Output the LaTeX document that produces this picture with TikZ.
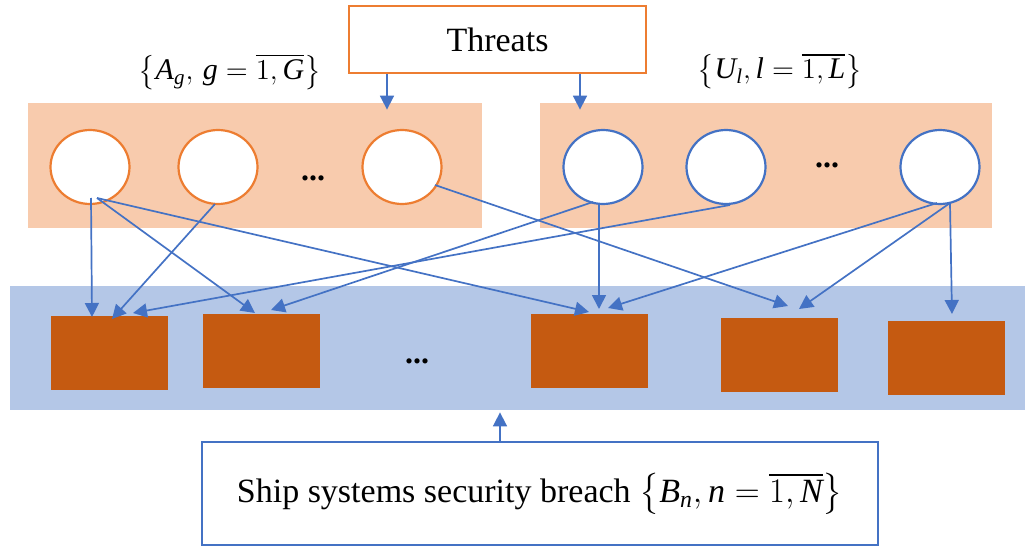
\documentclass[tikz,border=0pt]{standalone}
\usepackage{amsmath}
\usepackage{fontspec}
\setmainfont{Liberation Serif}
\usetikzlibrary{arrows.meta,shapes.geometric}
\definecolor{panelorange}{HTML}{F8CBAD}
\definecolor{lineorange}{HTML}{ED7D31}
\definecolor{bandblue}{HTML}{B4C7E7}
\definecolor{linkblue}{HTML}{4472C4}
\definecolor{blockrust}{HTML}{C55A11}
\newcommand\iv[1]{\text{\itshape #1}}
\begin{document}
\begin{tikzpicture}[x=0.5pt,y=-0.5pt,
  panel/.style={fill=panelorange,draw=none,inner sep=0pt},
  band/.style={fill=bandblue,draw=none,inner sep=0pt,minimum width=507.5pt,minimum height=62pt},
  anode/.style={ellipse,draw=lineorange,line width=1.1pt,fill=white,inner sep=0pt,minimum width=39.5pt,minimum height=37pt},
  unode/.style={ellipse,draw=linkblue,line width=1.1pt,fill=white,inner sep=0pt,minimum width=39.5pt,minimum height=37pt},
  block/.style={fill=blockrust,draw=none,inner sep=0pt,minimum width=58.5pt,minimum height=37pt},
  titlebox/.style={draw=lineorange,line width=1.1pt,fill=white,inner sep=0pt,minimum width=148.5pt,minimum height=33.5pt,font=\fontsize{17}{20}\selectfont},
  breachbox/.style={draw=linkblue,line width=1.1pt,fill=white,inner sep=0pt,minimum width=338pt,minimum height=51.5pt,font=\fontsize{17}{20}\selectfont},
  setlabel/.style={inner sep=0pt,font=\fontsize{15}{18}\selectfont},
  gap/.style={inner sep=0pt,font=\bfseries\fontsize{16}{18}\selectfont},
  link/.style={draw=linkblue,line width=0.85pt,-{Triangle[length=7pt,width=7pt]}}
]
\useasboundingbox (0,0) rectangle (1025,546);

% background panels
\node[panel,minimum width=227pt,minimum height=62.5pt] (PA) at (255,165.5) {};
\node[panel,minimum width=226pt,minimum height=62.5pt] (PU) at (766,165.5) {};
\node[band] (Band) at (517.5,348) {};

% threat sources
\node[titlebox] (T) at (497.5,39.5) {Threats};
\node[setlabel] (LA) at (230,72) {$\left\{\iv{A}_{\iv{g}},\,\iv{g}=\overline{1,\iv{G}}\right\}$};
\node[setlabel] (LU) at (780,71) {$\left\{\iv{U}_{\iv{l}},\iv{l}=\overline{1,\iv{L}}\right\}$};

\node[anode] (A1) at (90,167) {};
\node[anode] (A2) at (218,167) {};
\node[anode] (A3) at (402,167) {};
\node[gap] (DA) at (313,178) {...};

\node[unode] (U1) at (603,167) {};
\node[unode] (U2) at (726,167) {};
\node[unode] (U3) at (940,167) {};
\node[gap] (DU) at (827,165) {...};

% ship systems
\node[block] (R1) at (109.5,353) {};
\node[block] (R2) at (261.5,351) {};
\node[block] (R3) at (589,351) {};
\node[block] (R4) at (779,355) {};
\node[block] (R5) at (946.5,358) {};
\node[gap] (DB) at (417,361) {...};

\node[breachbox] (S) at (540,493.5) {Ship systems security breach $\left\{\iv{B}_{\iv{n}},\iv{n}=\overline{1,\iv{N}}\right\}$};

% threats feed both groups
\draw[link] ([shift={(-110.5,0)}]T.south) -- ([shift={(132,7)}]PA.north);
\draw[link] ([shift={(82.5,0)}]T.south) -- ([shift={(-186,7)}]PU.north);

% attack links
\draw[link] ([shift={(1,31)}]A1.center) -- ([shift={(-17.5,-36)}]R1.center);
\draw[link] ([shift={(7,31)}]A1.center) -- ([shift={(-6.5,-38)}]R2.center);
\draw[link] ([shift={(7,31)}]A1.center) -- ([shift={(0,-39)}]R3.center);
\draw[link] ([shift={(-3,37)}]A2.center) -- ([shift={(2.5,-34)}]R1.center);
\draw[link] ([shift={(33,18)}]A3.center) -- ([shift={(9,-49)}]R4.center);
\draw[link] ([shift={(-10,35)}]U1.center) -- ([shift={(9.5,-41)}]R2.center);
\draw[link] ([shift={(-4,36)}]U1.center) -- ([shift={(10,-42)}]R3.center);
\draw[link] ([shift={(4,38)}]U2.center) -- ([shift={(23.5,-40)}]R1.center);
\draw[link] ([shift={(-3,36)}]U3.center) -- ([shift={(19,-43)}]R3.center);
\draw[link] ([shift={(10,36)}]U3.center) -- ([shift={(20,-46)}]R4.center);
\draw[link] ([shift={(10,36)}]U3.center) -- ([shift={(5.5,-44)}]R5.center);

% breach feeds the systems band
\draw[link] ([shift={(-40,0)}]S.north) -- ([shift={(-17.5,2)}]Band.south);
\end{tikzpicture}
\end{document}
